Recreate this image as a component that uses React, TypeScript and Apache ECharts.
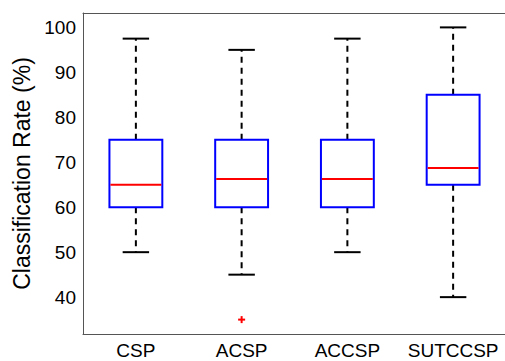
import React, { useEffect, useRef } from "react";
import * as echarts from "echarts";

const categories = ["CSP", "ACSP", "ACCSP", "SUTCCSP"];
const lowerWhisker = [50, 45, 50, 40];
const firstQuartile = [60, 60, 60, 65];
const medians = [65, 66.25, 66.25, 68.75];
const thirdQuartile = [75, 75, 75, 85];
const upperWhisker = [97.5, 95, 97.5, 100];
const outlierPoints = [[1, 35]];
const yMin = 31.8;
const yMax = 103.2;
const yAxisTitle = "Classification Rate (%)";

const FONT = "'Liberation Sans', Arial, Helvetica, sans-serif";
const FRAME = "#555555";

export default function App() {
  const ref = useRef<HTMLDivElement>(null);

  useEffect(() => {
    if (!ref.current) return;
    const chart = echarts.init(ref.current, undefined, { renderer: "svg" });

    const boxData = categories.map((_, i) => [
      i,
      lowerWhisker[i],
      firstQuartile[i],
      medians[i],
      thirdQuartile[i],
      upperWhisker[i],
    ]);

    const tickStyle = { inside: true, length: 4, lineStyle: { color: FRAME, width: 1 } };
    const lineStyle = { show: true, lineStyle: { color: FRAME, width: 1 } };

    const option: any = {
      animation: false,
      backgroundColor: "#ffffff",
      grid: { left: 83, top: 13, width: 423, height: 321, outerBoundsMode: "none", containLabel: false },
      xAxis: [
        {
          type: "category",
          data: categories,
          position: "bottom",
          axisLine: lineStyle,
          axisTick: { ...tickStyle, alignWithLabel: true },
          axisLabel: {
            interval: 0,
            color: "#000",
            fontSize: 19,
            lineHeight: 19,
            fontFamily: FONT,
            fontWeight: "normal",
            margin: 7,
            hideOverlap: false,
          },
          splitLine: { show: false },
        },
        {
          type: "category",
          data: categories,
          position: "top",
          axisLine: lineStyle,
          axisTick: { ...tickStyle, alignWithLabel: true },
          axisLabel: { show: false },
          splitLine: { show: false },
        },
      ],
      yAxis: [
        {
          type: "value",
          min: yMin,
          max: yMax,
          minInterval: 10,
          maxInterval: 10,
          position: "left",
          name: yAxisTitle,
          nameLocation: "middle",
          nameGap: 50,
          nameTextStyle: { color: "#000", fontSize: 23, fontFamily: FONT },
          axisLine: lineStyle,
          axisTick: tickStyle,
          axisLabel: {
            color: "#000",
            fontSize: 19,
            fontFamily: FONT,
            fontWeight: "normal",
            margin: 7,
            showMinLabel: false,
            showMaxLabel: false,
            formatter: (v: number) => (Math.abs(v % 10) < 1e-6 ? String(Math.round(v)) : ""),
          },
          splitLine: { show: false },
        },
        {
          type: "value",
          min: yMin,
          max: yMax,
          minInterval: 10,
          maxInterval: 10,
          position: "right",
          axisLine: lineStyle,
          axisTick: tickStyle,
          axisLabel: { show: false },
          splitLine: { show: false },
        },
      ],
      series: [
        {
          type: "custom",
          xAxisIndex: 0,
          yAxisIndex: 0,
          data: boxData,
          encode: { x: 0, y: [1, 2, 3, 4, 5] },
          renderItem: (params: any, api: any) => {
            const idx = api.value(0);
            const lo = api.coord([idx, api.value(1)]);
            const q1 = api.coord([idx, api.value(2)]);
            const med = api.coord([idx, api.value(3)]);
            const q3 = api.coord([idx, api.value(4)]);
            const hi = api.coord([idx, api.value(5)]);
            const band = api.size([1, 0])[0];
            const cx = lo[0];
            const bw = band * 0.5;
            const cw = band * 0.25;
            const dash = { stroke: "#000", lineWidth: 2, lineDash: [6, 5] };
            const solid = { stroke: "#000", lineWidth: 2 };
            return {
              type: "group",
              children: [
                { type: "line", shape: { x1: cx, y1: q3[1], x2: cx, y2: hi[1] }, style: dash },
                { type: "line", shape: { x1: cx, y1: q1[1], x2: cx, y2: lo[1] }, style: dash },
                { type: "line", shape: { x1: cx - cw / 2, y1: hi[1], x2: cx + cw / 2, y2: hi[1] }, style: solid },
                { type: "line", shape: { x1: cx - cw / 2, y1: lo[1], x2: cx + cw / 2, y2: lo[1] }, style: solid },
                {
                  type: "rect",
                  shape: { x: cx - bw / 2, y: q3[1], width: bw, height: q1[1] - q3[1] },
                  style: { fill: "none", stroke: "#0000ff", lineWidth: 2 },
                },
                {
                  type: "line",
                  shape: { x1: cx - bw / 2 + 1, y1: med[1], x2: cx + bw / 2 - 1, y2: med[1] },
                  style: { stroke: "#ff0000", lineWidth: 2 },
                },
              ],
            };
          },
        },
        {
          type: "custom",
          xAxisIndex: 0,
          yAxisIndex: 0,
          data: outlierPoints,
          encode: { x: 0, y: 1 },
          renderItem: (params: any, api: any) => {
            const p = api.coord([api.value(0), api.value(1)]);
            const s = 3.5;
            const st = { stroke: "#ff0000", lineWidth: 2 };
            return {
              type: "group",
              children: [
                { type: "line", shape: { x1: p[0] - s, y1: p[1], x2: p[0] + s, y2: p[1] }, style: st },
                { type: "line", shape: { x1: p[0], y1: p[1] - s, x2: p[0], y2: p[1] + s }, style: st },
              ],
            };
          },
        },
      ],
    };

    chart.setOption(option);
    return () => chart.dispose();
  }, []);

  return (
    <div
      ref={ref}
      style={{ position: "fixed", left: 0, top: 0, width: 505, height: 361, background: "#fff" }}
    />
  );
}
